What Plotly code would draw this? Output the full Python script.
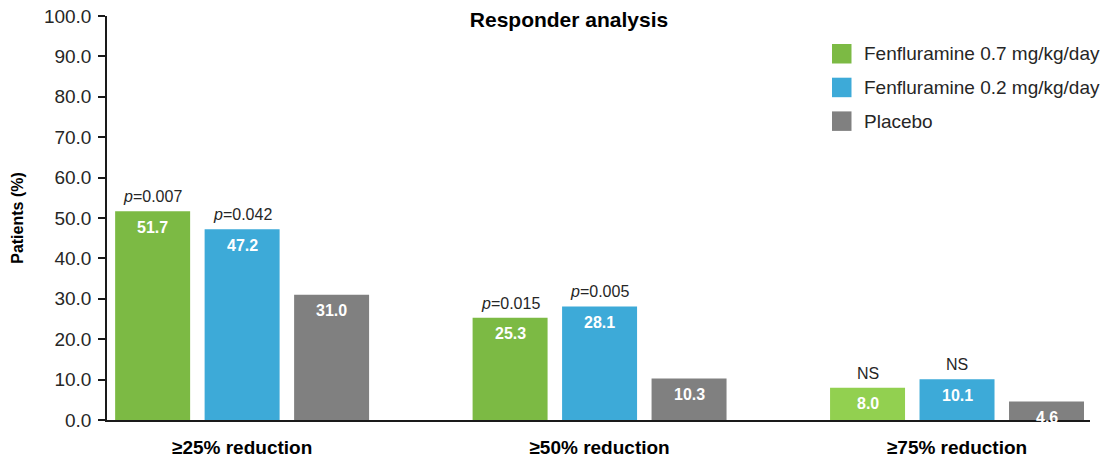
import plotly.graph_objects as go

# ---- data -------------------------------------------------------------
categories = ["≥25% reduction", "≥50% reduction", "≥75% reduction"]
series_names = ["Fenfluramine 0.7 mg/kg/day", "Fenfluramine 0.2 mg/kg/day", "Placebo"]
fen_07 = [51.7, 25.3, 8.0]
fen_02 = [47.2, 28.1, 10.1]
placebo = [31.0, 10.3, 4.6]
fen_07_sig = ["<i>p</i>=0.007", "<i>p</i>=0.015", "NS"]
fen_02_sig = ["<i>p</i>=0.042", "<i>p</i>=0.005", "NS"]
placebo_sig = [None, None, None]
y_ticks = [0, 10, 20, 30, 40, 50, 60, 70, 80, 90, 100]

# ---- styling ----------------------------------------------------------
GREEN = "#7CBA44"
GREEN_LIGHT = "#92D050"
BLUE = "#3DAAD8"
GRAY = "#808080"
AXIS = "#1a1a1a"
TEXT = "#262626"
FONT = "Liberation Sans, Arial, sans-serif"

W, H = 1101, 460
ML, MR, MT, MB = 107, 11, 16, 40
PW, PH = W - ML - MR, H - MT - MB

BARGAP = 0.249
BARGROUPGAP = 0.162
N_SERIES = 3
SLOT = (1 - BARGAP) / N_SERIES
X_RANGE = [-0.378, 2.372]

series = [
    (series_names[0], fen_07, [GREEN, GREEN, GREEN_LIGHT], fen_07_sig),
    (series_names[1], fen_02, [BLUE] * 3, fen_02_sig),
    (series_names[2], placebo, [GRAY] * 3, placebo_sig),
]
legend_colors = [GREEN, BLUE, GRAY]

x_pos = list(range(len(categories)))

fig = go.Figure()

for k, (name, vals, colors, sig) in enumerate(series):
    fig.add_trace(go.Bar(
        x=x_pos, y=vals, name=name,
        marker=dict(color=colors, line=dict(width=0)),
        showlegend=False,
        hovertemplate="%{y:.1f}<extra>" + name + "</extra>",
    ))
    offset = (k - (N_SERIES - 1) / 2) * SLOT
    for i, v in enumerate(vals):
        # value inside the top of the bar
        fig.add_annotation(
            x=i + offset, y=v, xref="x", yref="y",
            text=f"<b>{v:.1f}</b>", showarrow=False,
            yanchor="middle", yshift=-16,
            font=dict(family=FONT, size=16, color="white"),
        )
        # significance label above the bar
        if sig[i]:
            fig.add_annotation(
                x=i + offset, y=v, xref="x", yref="y",
                text=sig[i], showarrow=False,
                yanchor="bottom", yshift=4,
                font=dict(family=FONT, size=16, color=TEXT),
            )


def px_x(px):
    return (px - ML) / PW


def px_y(py):
    return (H - MB - py) / PH


# legend drawn as swatches + labels
legend_left, legend_top, legend_step, swatch = 832, 44, 33.7, 19.5
for j, (name, col) in enumerate(zip(series_names, legend_colors)):
    top = legend_top + j * legend_step
    fig.add_shape(
        type="rect", xref="paper", yref="paper",
        x0=px_x(legend_left), x1=px_x(legend_left + swatch),
        y0=px_y(top + swatch), y1=px_y(top),
        fillcolor=col, line=dict(width=0),
    )
    fig.add_annotation(
        xref="paper", yref="paper",
        x=px_x(862), y=px_y(top + swatch / 2),
        xanchor="left", yanchor="middle", showarrow=False,
        text=name, font=dict(family=FONT, size=19, color=TEXT),
    )

fig.update_layout(
    width=W, height=H,
    margin=dict(l=ML, r=MR, t=MT, b=MB, autoexpand=False),
    paper_bgcolor="white", plot_bgcolor="white",
    barmode="group", bargap=BARGAP, bargroupgap=BARGROUPGAP,
    font=dict(family=FONT, color=TEXT),
    title=dict(
        text="<b>Responder analysis</b>",
        xref="container", yref="container",
        x=569 / W, y=1 - 19.5 / H, xanchor="center", yanchor="middle",
        font=dict(family=FONT, size=21, color="black"),
    ),
    xaxis=dict(
        range=X_RANGE, automargin=False,
        tickvals=x_pos,
        ticktext=[f"<b>{c}</b>" for c in categories],
        tickfont=dict(family=FONT, size=19, color="black"),
        ticks="", ticklabelstandoff=9,
        showline=True, linecolor=AXIS, linewidth=1.5,
        showgrid=False, zeroline=False,
    ),
    yaxis=dict(
        range=[0, 100], automargin=False,
        tickvals=y_ticks, tickformat=".1f",
        tickfont=dict(family=FONT, size=19, color=TEXT),
        ticks="outside", ticklen=7, tickwidth=1.5, tickcolor=AXIS,
        ticklabelstandoff=3,
        showline=True, linecolor=AXIS, linewidth=1.5,
        showgrid=False, zeroline=False,
        title=dict(text="<b>Patients (%)</b>", standoff=16,
                   font=dict(family=FONT, size=16, color="black")),
    ),
)

fig.write_html("out.html")
